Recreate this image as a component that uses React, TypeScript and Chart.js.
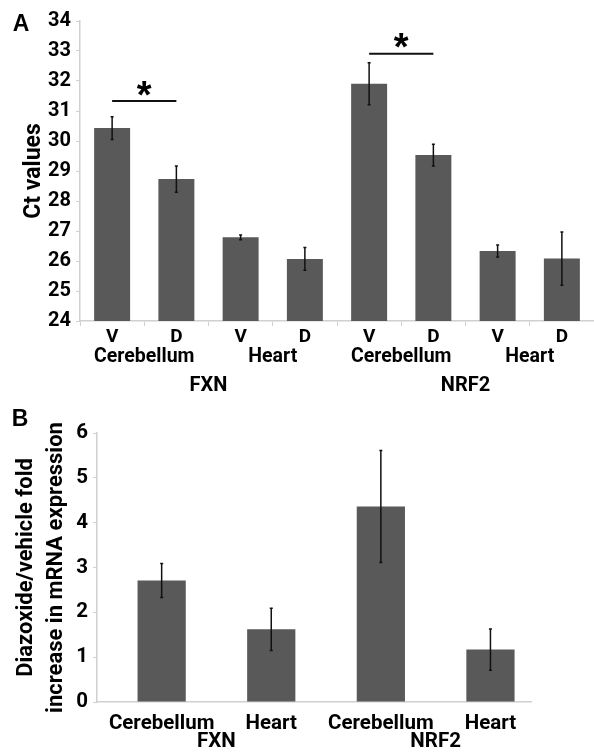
import React, { useEffect, useRef } from "react";
import { Chart, registerables } from "chart.js";

Chart.register(...registerables);

// ---------- Data ----------
const A_TICK_LABELS = ["V", "D", "V", "D", "V", "D", "V", "D"];
const A_TISSUES = ["Cerebellum", "Heart", "Cerebellum", "Heart"];
const GENES = ["FXN", "NRF2"];
const A_CT_VALUES = [30.43, 28.73, 26.79, 26.07, 31.91, 29.53, 26.33, 26.08];
const A_CT_ERRORS = [0.38, 0.44, 0.08, 0.38, 0.7, 0.36, 0.2, 0.89];
const A_SIG_PAIRS = [
  [0, 1],
  [4, 5],
];
const A_SIG_LEVELS = [31.33, 32.91];

const B_LABELS = ["Cerebellum", "Heart", "Cerebellum", "Heart"];
const B_FOLD = [2.71, 1.62, 4.36, 1.17];
const B_FOLD_ERRORS = [0.38, 0.47, 1.25, 0.46];

// ---------- Styles ----------
const FONT = "Roboto, 'Noto Sans', sans-serif";
const LETTER_FONT = "'Liberation Sans', Arial, sans-serif";
const BAR = "#595959";
const AXIS = "#d0d0d0";
const STAR_SIZE = 38;

const errorBarPlugin = {
  id: "errorBars",
  afterDatasetsDraw(chart: any) {
    const ctx = chart.ctx;
    const yScale = chart.scales.y;
    chart.data.datasets.forEach((ds: any, di: number) => {
      const meta = chart.getDatasetMeta(di);
      const errs: number[] = ds.errors || [];
      meta.data.forEach((el: any, i: number) => {
        const raw = ds.data[i];
        const v = typeof raw === "number" ? raw : raw.y;
        const e = errs[i];
        if (e == null) return;
        const x = el.x;
        const yTop = yScale.getPixelForValue(v + e);
        const yBot = yScale.getPixelForValue(v - e);
        ctx.save();
        ctx.strokeStyle = "#111";
        ctx.lineWidth = 1.5;
        ctx.beginPath();
        ctx.moveTo(x, yTop);
        ctx.lineTo(x, yBot);
        ctx.moveTo(x - 1.5, yTop);
        ctx.lineTo(x + 1.5, yTop);
        ctx.moveTo(x - 1.5, yBot);
        ctx.lineTo(x + 1.5, yBot);
        ctx.stroke();
        ctx.restore();
      });
    });
  },
};

const annotAPlugin = {
  id: "annotA",
  afterDraw(chart: any) {
    const ctx = chart.ctx;
    const xs = chart.scales.x;
    const ys = chart.scales.y;
    ctx.save();
    ctx.fillStyle = "#000";
    ctx.textAlign = "center";
    ctx.textBaseline = "middle";
    // panel letter
    ctx.font = `bold 23px ${LETTER_FONT}`;
    ctx.fillText("A", 21, 25);
    // tissue labels
    ctx.font = `bold 19.5px ${FONT}`;
    A_TISSUES.forEach((t, i) => {
      const cx = (xs.getPixelForValue(2 * i) + xs.getPixelForValue(2 * i + 1)) / 2;
      ctx.fillText(t, cx, 357);
    });
    // gene labels
    ctx.font = `bold 20px ${FONT}`;
    GENES.forEach((g, i) => {
      const cx = (xs.getPixelForValue(4 * i) + xs.getPixelForValue(4 * i + 3)) / 2;
      ctx.fillText(g, cx, 386);
    });
    // significance
    A_SIG_PAIRS.forEach((p, k) => {
      const x1 = xs.getPixelForValue(p[0]);
      const x2 = xs.getPixelForValue(p[1]);
      const y = ys.getPixelForValue(A_SIG_LEVELS[k]);
      ctx.strokeStyle = "#111";
      ctx.lineWidth = 2;
      ctx.beginPath();
      ctx.moveTo(x1, y);
      ctx.lineTo(x2, y);
      ctx.stroke();
      ctx.font = `bold ${STAR_SIZE}px ${LETTER_FONT}`;
      ctx.textBaseline = "alphabetic";
      const cy = y - 14;
      ctx.fillText("*", (x1 + x2) / 2, cy + 0.545 * STAR_SIZE);
      ctx.textBaseline = "middle";
    });
    ctx.restore();
  },
};

const annotBPlugin = {
  id: "annotB",
  afterDraw(chart: any) {
    const ctx = chart.ctx;
    const xs = chart.scales.x;
    ctx.save();
    ctx.fillStyle = "#000";
    ctx.textAlign = "center";
    ctx.textBaseline = "middle";
    ctx.font = `bold 23px ${LETTER_FONT}`;
    ctx.fillText("B", 20, 30);
    ctx.font = `bold 20.5px ${FONT}`;
    GENES.forEach((g, i) => {
      const cx = (xs.getPixelForValue(2 * i) + xs.getPixelForValue(2 * i + 1)) / 2;
      ctx.fillText(g, cx, 352);
    });
    ctx.restore();
  },
};

export default function App() {
  const refA = useRef<HTMLCanvasElement | null>(null);
  const refB = useRef<HTMLCanvasElement | null>(null);

  useEffect(() => {
    const chartA = new Chart(refA.current as HTMLCanvasElement, {
      type: "bar",
      data: {
        labels: A_TICK_LABELS,
        datasets: [
          {
            data: A_CT_VALUES,
            backgroundColor: BAR,
            borderWidth: 0,
            barPercentage: 0.56,
            categoryPercentage: 1,
            errors: A_CT_ERRORS,
          } as any,
        ],
      },
      options: {
        animation: false,
        responsive: false,
        devicePixelRatio: 1,
        layout: { padding: { top: 21, left: 0, right: 0, bottom: 0 } },
        plugins: { legend: { display: false }, tooltip: { enabled: false } },
        scales: {
          x: {
            grid: {
              display: true,
              drawOnChartArea: false,
              drawTicks: true,
              tickLength: 5,
              color: AXIS,
              offset: true,
            },
            border: { color: AXIS, width: 1.5 },
            ticks: {
              color: "#000",
              font: { family: FONT, size: 19, weight: "bold" },
              padding: 0,
              maxRotation: 0,
              autoSkip: false,
            },
            afterFit: (s: any) => {
              s.height = 79;
              s.paddingLeft = 0;
              s.paddingRight = 0;
            },
          },
          y: {
            min: 24,
            max: 34,
            ticks: {
              stepSize: 1,
              color: "#000",
              font: { family: FONT, size: 20, weight: "bold" },
              padding: 5,
            },
            grid: { drawOnChartArea: false, tickLength: 4, color: AXIS },
            border: { color: AXIS, width: 1.5 },
            title: {
              display: true,
              text: "Ct values",
              color: "#000",
              font: { family: FONT, size: 23, weight: "bold" },
              padding: { top: 20, bottom: 0 },
            },
            afterFit: (s: any) => {
              s.width = 80;
              s.paddingTop = 0;
              s.paddingBottom = 0;
            },
          },
        },
      } as any,
      plugins: [errorBarPlugin, annotAPlugin],
    });

    const chartB = new Chart(refB.current as HTMLCanvasElement, {
      type: "bar",
      data: {
        datasets: [
          {
            data: B_FOLD.map((v, i) => ({ x: i, y: v })),
            backgroundColor: BAR,
            borderWidth: 0,
            barPercentage: 0.44,
            categoryPercentage: 1,
            errors: B_FOLD_ERRORS,
          } as any,
        ],
      },
      options: {
        animation: false,
        responsive: false,
        devicePixelRatio: 1,
        layout: { padding: { top: 43, left: 0, right: 63, bottom: 0 } },
        plugins: { legend: { display: false }, tooltip: { enabled: false } },
        scales: {
          x: {
            type: "linear",
            min: -0.59,
            max: 3.37,
            offset: false,
            grid: { display: false },
            border: { display: true, color: AXIS, width: 1.5 },
            afterBuildTicks: (s: any) => {
              s.ticks = B_LABELS.map((_, i) => ({ value: i }));
            },
            ticks: {
              color: "#000",
              font: { family: FONT, size: 20.5, weight: "bold" },
              padding: 2,
              maxRotation: 0,
              autoSkip: false,
              callback: (v: any) => B_LABELS[v] ?? "",
            },
            afterFit: (s: any) => {
              s.height = 52;
              s.paddingLeft = 0;
              s.paddingRight = 0;
            },
          },
          y: {
            min: 0,
            max: 6,
            ticks: {
              stepSize: 1,
              color: "#000",
              font: { family: FONT, size: 20.5, weight: "bold" },
              padding: 5,
            },
            grid: { drawOnChartArea: false, tickLength: 4, color: AXIS },
            border: { color: AXIS, width: 1.5 },
            title: {
              display: true,
              text: ["Diazoxide/vehicle fold", "increase in mRNA expression"],
              color: "#000",
              font: { family: FONT, size: 22, weight: "bold", lineHeight: 1.35 },
              padding: { top: 12, bottom: 0 },
            },
            afterFit: (s: any) => {
              s.width = 97;
              s.paddingTop = 0;
              s.paddingBottom = 0;
            },
          },
        },
      } as any,
      plugins: [errorBarPlugin, annotBPlugin],
    });

    return () => {
      chartA.destroy();
      chartB.destroy();
    };
  }, []);

  return (
    <div
      style={{
        position: "absolute",
        left: 0,
        top: 0,
        width: 594,
        height: 754,
        background: "#fff",
        overflow: "hidden",
      }}
    >
      <canvas
        ref={refA}
        width={594}
        height={400}
        style={{ position: "absolute", left: 0, top: 0, width: 594, height: 400 }}
      />
      <canvas
        ref={refB}
        width={594}
        height={364}
        style={{ position: "absolute", left: 0, top: 390, width: 594, height: 364 }}
      />
    </div>
  );
}
